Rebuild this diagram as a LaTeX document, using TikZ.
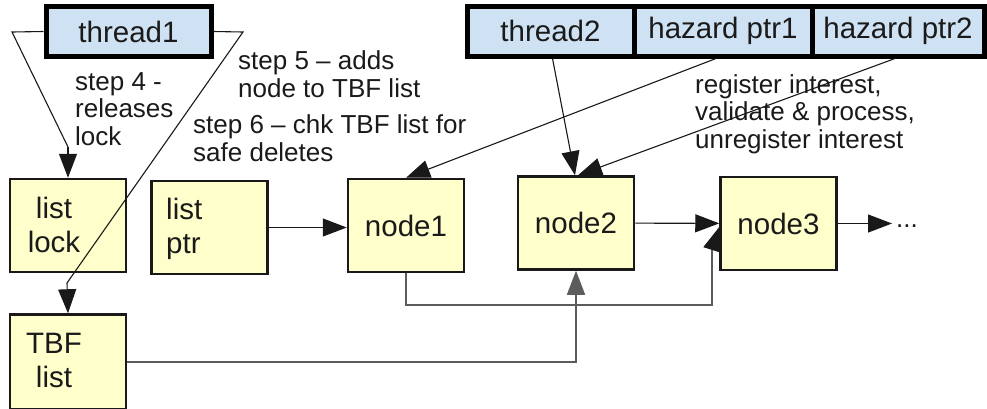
\documentclass[tikz,border=0pt]{standalone}
\usepackage{fontspec}
\setmainfont{Liberation Sans}
\usetikzlibrary{arrows.meta,calc}
\definecolor{boxyellow}{HTML}{FFFFCC}
\definecolor{boxblue}{HTML}{CFE2F3}
\definecolor{routegray}{HTML}{5C5C5C}
\definecolor{txt}{HTML}{1A1A1A}
\begin{document}
\begin{tikzpicture}[x=1pt,y=-1pt,
  ybox/.style={draw=black!90, line width=2.5pt, fill=boxyellow, minimum width=116pt, minimum height=93pt, inner sep=0pt, font=\fontsize{29.5}{33}\selectfont, text=txt},
  bbox/.style={draw=black, line width=5pt, fill=boxblue, minimum height=50pt, inner sep=0pt, font=\fontsize{29.5}{33}\selectfont, text=txt},
  lbl/.style={font=\fontsize{26}{27.5}\selectfont, text=txt, inner sep=0pt, align=left, anchor=base west},
  boxtxt/.style={font=\fontsize{29.5}{34}\selectfont, text=txt, inner sep=0pt, anchor=base},
  thinline/.style={line width=1.1pt, draw=black!90},
  route/.style={line width=1.6pt, draw=routegray},
  arr/.style={-{Triangle[length=24pt,width=18pt]}},
]
\useasboundingbox (0,0) rectangle (987,408);
\fill[white] (0,0) rectangle (987,408);

% blue boxes
\node[bbox, minimum width=165pt] (thread1) at (128.5,31.5) {thread1};
\node[bbox, minimum width=167pt] (thread2) at (550.5,31) {thread2};
\node[bbox, minimum width=178pt] (hp1) at (723,31) {hazard ptr1};
\node[bbox, minimum width=172pt] (hp2) at (898,31) {hazard ptr2};

% yellow boxes
\node[ybox] (lock) at (68,225.5) {};
\node[boxtxt, align=center] (locktxt) at (54,252) {list\\lock};
\node[ybox] (ptr) at (209.5,227.5) {};
\node[boxtxt, align=left, anchor=base west] (ptrtxt) at (166,253) {list\\ptr};
\node[ybox] (node1) at (406,225.5) {node1};
\node[ybox] (node2) at (576,223) {node2};
\node[ybox] (node3) at (778.5,223.5) {node3};
\node[ybox, minimum height=95pt] (tbf) at (68,362) {};
\node[boxtxt, align=center] (tbftxt) at (54,387) {TBF\\list};

% labels
\node[lbl] (s4) at (75,145) {step 4 -\\releases\\lock};
\node[lbl] (s5) at (238,97) {step 5 – adds\\node to TBF list};
\node[lbl] (s6) at (193,161) {step 6 – chk TBF list for\\safe deletes};
\node[lbl] (reg) at (695,148) {register interest,\\validate \& process,\\unregister interest};
\node[inner xsep=4pt, inner ysep=0pt, anchor=base west, font=\fontsize{26}{27.5}\selectfont, text=txt] (dots) at (892,227) {...};

% thread1 triangle
\coordinate (tl) at (12,32);
\coordinate (tlb) at (68,147);
\coordinate (tr) at (243,32);
\coordinate (trb) at (67,283);
\draw[thinline] (thread1.west) -- (tl) -- (tlb);
\draw[thinline, arr] (tlb) -- (lock.north);
\draw[thinline] (thread1.east) -- (tr) -- (trb);
\draw[thinline, arr] (trb) -- (tbf.north);

% list arrows
\draw[thinline, arr] (ptr.east) -- (ptr.east -| node1.west);
\draw[thinline, arr] (node2) -- (node3);
\draw[thinline, arr] (node3.east) -- (node3.east -| dots.west);

% hazard pointers
\draw[thinline, arr] ([xshift=2pt]thread2.south) -- ([xshift=-1pt]node2.north);
\draw[thinline, arr] ([xshift=-7pt]hp1.south) -- (node1.north);
\draw[thinline, arr] ([xshift=-3pt]hp2.south) -- ([xshift=2pt]node2.north);

% routes
\coordinate (r1) at (712,305);
\coordinate (r2) at (712,250);
\draw[route] (node1.south) |- (r1) -- (r2);
\draw[thinline, arr] (r2) -- ([yshift=-3.5pt]node3.west);
\draw[route, arr] (tbf.east) -| (node2.south);
\end{tikzpicture}
\end{document}
